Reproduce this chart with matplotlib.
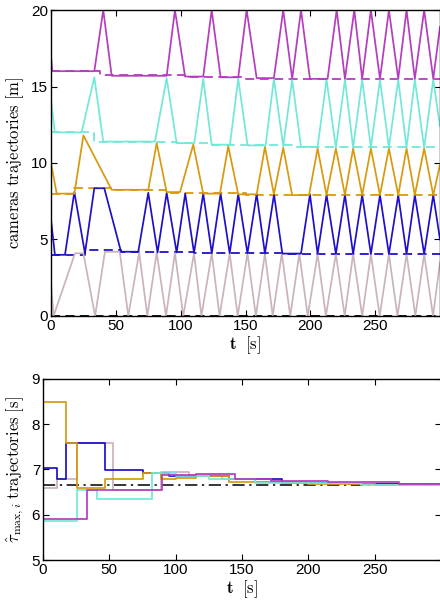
import matplotlib
matplotlib.use("Agg")
import matplotlib.pyplot as plt

plt.rcParams['mathtext.fontset'] = 'cm'
plt.rcParams['font.family'] = ['Liberation Sans', 'DejaVu Sans']

# ---------------- colours ----------------
c_pink = '#c9b4bc'
c_blue = '#1e10c8'
c_orange = '#d8990e'
c_turq = '#72e8d8'
c_purple = '#b63cbf'

# ---------------- top: camera trajectories (waypoints t [s], position [m]) ----------------
cam1_t = [0, 2, 18.5, 25, 34, 41.6, 53, 59.6, 68, 74.3, 81.5, 88.7, 95.6, 102, 110.3, 116, 124,
          130, 137.8, 144, 151.5, 158, 165, 171, 178, 184.5, 191.5, 198, 205.6, 212, 219.7, 226.5,
          233, 240, 246.7, 253.5, 260.6, 267.2, 274.2, 281, 287.8, 294.6, 300]
cam1_v = [2.2, 0, 4.1, 4.1, 0, 4.2, 4.2, 0, 4.15, 0, 4.15, 0, 4.12, 0, 4.1, 0, 4.1,
          0, 4.1, 0, 4.1, 0, 4.08, 0, 4.08, 0, 4.08, 0, 4.06, 0, 4.06, 0,
          4.06, 0, 4.05, 0, 4.05, 0, 4.05, 0, 4.05, 0, 3.5]

cam2_t = [0, 3, 10.8, 18, 26.2, 33.4, 41.1, 54, 67.3, 75, 82.2, 89.2, 96.9, 103.5, 110.3, 117.4,
          124, 130.8, 137.8, 144.4, 151.5, 158.6, 165, 172, 178.4, 192.8, 199.7, 205.6, 212.5,
          219.7, 226.7, 233, 240, 246.7, 253.7, 260.6, 267.8, 274.2, 280.6, 287.8, 294.8, 300]
cam2_v = [6.3, 4.0, 4.0, 8.1, 4.1, 8.35, 8.35, 4.2, 4.2, 8.05, 4.15, 8.05, 4.15, 8.0, 4.12, 8.0,
          4.1, 8.0, 4.1, 7.97, 4.1, 7.97, 4.08, 7.95, 4.08, 4.08, 7.95, 4.06, 7.92,
          4.06, 7.92, 4.05, 7.9, 4.05, 7.9, 4.05, 7.9, 4.05, 7.9, 4.05, 7.9, 5.0]

cam3_t = [0, 4.4, 18, 25, 46.8, 75, 81.5, 89.2, 99.5, 109.7, 117.4, 130.3, 136.7, 144.4, 158.6,
          165, 171.9, 179.1, 186, 199, 205.6, 212.5, 219.7, 226.7, 233, 240, 246.7, 253.7,
          260.6, 267.8, 274.2, 280.6, 287.8, 294.8, 300]
cam3_v = [10.0, 8.0, 8.0, 11.8, 8.25, 8.25, 11.3, 8.1, 8.1, 11.2, 8.0, 8.0, 11.1, 7.95, 7.95,
          11.05, 7.95, 11.0, 7.9, 7.9, 10.95, 7.9, 10.95, 7.9, 10.95, 7.9, 10.95, 7.9,
          10.95, 7.9, 10.95, 7.9, 10.95, 7.9, 9.9]

cam4_t = [0, 3, 23.6, 33.4, 40.3, 80.2, 89.2, 96.9, 110.5, 117.4, 123.9, 138, 144.4, 151.6,
          165.5, 171.9, 179.1, 186, 192.8, 205.6, 212.5, 219.7, 226.7, 233, 240, 246.7, 253.7,
          260.6, 267.8, 274.2, 280.6, 287.8, 294.8, 300]
cam4_v = [14.1, 12.0, 12.0, 15.6, 11.4, 11.4, 15.55, 11.3, 11.3, 15.5, 11.2, 11.2, 15.5, 11.15,
          11.15, 15.5, 11.1, 15.45, 11.05, 11.05, 15.45, 11.0, 15.45, 11.0, 15.45, 11.0, 15.45,
          11.0, 15.45, 11.0, 15.45, 11.0, 15.45, 12.4]

cam5_t = [0, 1, 33.4, 40.3, 46.8, 89.2, 95.6, 103.4, 117.4, 123.9, 130.8, 144.4, 150.9, 158.6,
          171.9, 179.1, 186, 192.8, 199.7, 213.3, 220.3, 226.7, 233.9, 240, 246.7, 253.7,
          260.6, 267.8, 274.2, 280.6, 287.8, 294.8, 300]
cam5_v = [17.0, 16.0, 16.0, 20.0, 15.7, 15.7, 20.0, 15.65, 15.65, 20.0, 15.6, 15.6, 20.0, 15.55,
          15.55, 20.0, 15.5, 20.0, 15.5, 15.5, 20.0, 15.5, 20.0, 15.5, 20.0, 15.5,
          20.0, 15.5, 20.0, 15.5, 20.0, 15.5, 18.9]

# segment boundaries (dashed, piecewise constant)
bnd0_t = [0, 300]
bnd0_v = [0, 0]
bnd1_t = [0, 26, 54, 110, 180, 300]
bnd1_v = [4.0, 4.3, 4.2, 4.12, 4.05, 4.05]
bnd2_t = [0, 18, 47, 89, 150, 300]
bnd2_v = [8.0, 8.38, 8.25, 8.05, 7.92, 7.92]
bnd3_t = [0, 33, 97, 124, 190, 300]
bnd3_v = [12.0, 11.4, 11.3, 11.2, 11.02, 11.02]
bnd4_t = [0, 38, 103, 150, 300]
bnd4_v = [16.0, 15.72, 15.65, 15.52, 15.52]

# ---------------- bottom: tau_max,i estimates (step, post) ----------------
tau1_t = [0, 10.8, 25.8, 53, 89, 110, 135, 160, 200, 240, 300]
tau1_v = [6.6, 6.8, 7.58, 6.55, 6.95, 6.88, 6.8, 6.72, 6.7, 6.67, 6.67]
tau2_t = [0, 10.8, 17.3, 47, 75, 95, 115, 140, 180, 230, 300]
tau2_v = [7.03, 6.8, 7.58, 6.98, 6.93, 6.85, 6.85, 6.78, 6.7, 6.67, 6.67]
tau3_t = [0, 17.3, 25.8, 47, 75, 89, 100, 115, 140, 200, 250, 300]
tau3_v = [8.5, 7.58, 6.6, 6.8, 6.92, 6.78, 6.82, 6.85, 6.73, 6.68, 6.66, 6.66]
tau4_t = [0, 25.8, 40.4, 81.8, 100, 125, 160, 240, 300]
tau4_v = [5.87, 6.55, 6.35, 6.92, 6.85, 6.78, 6.7, 6.66, 6.66]
tau5_t = [0, 33, 89.4, 115, 145, 172, 215, 268, 300]
tau5_v = [5.9, 6.55, 6.88, 6.9, 6.8, 6.75, 6.72, 6.67, 6.67]
tau_opt = 6.66

fig = plt.figure(figsize=(4.4, 6.03), dpi=100)
ax1 = fig.add_axes([51/440, 1-316/603, 389/440, 306/603])
ax2 = fig.add_axes([43/440, 1-560/603, 398/440, 181/603])

dash = (0, (5, 3))
lw = 1.25
for bt, bv, c in [(bnd0_t, bnd0_v, 'k'), (bnd1_t, bnd1_v, c_blue), (bnd2_t, bnd2_v, c_orange),
                  (bnd3_t, bnd3_v, c_turq), (bnd4_t, bnd4_v, c_purple)]:
    ax1.step(bt, bv, where='post', color=c, lw=1.3, linestyle=dash)

for ct, cv, c in [(cam1_t, cam1_v, c_pink), (cam2_t, cam2_v, c_blue), (cam3_t, cam3_v, c_orange),
                  (cam4_t, cam4_v, c_turq), (cam5_t, cam5_v, c_purple)]:
    ax1.plot(ct, cv, color=c, lw=lw)

ax1.set_xlim(0, 300)
ax1.set_ylim(0, 20)
ax1.set_xticks([0, 50, 100, 150, 200, 250])
ax1.set_yticks([0, 5, 10, 15, 20])
ax1.set_xlabel(r'$\mathbf{t}\ \ [\mathrm{s}]$', fontsize=12, labelpad=1)
ax1.set_ylabel(r'$\mathrm{cameras\ trajectories\ [m]}$', fontsize=12, labelpad=4)

ax2.axhline(tau_opt, color='k', lw=1.1, linestyle=(0, (8, 3, 1.5, 3)))
for tt, tv, c in [(tau1_t, tau1_v, c_pink), (tau2_t, tau2_v, c_blue), (tau3_t, tau3_v, c_orange),
                  (tau4_t, tau4_v, c_turq), (tau5_t, tau5_v, c_purple)]:
    ax2.step(tt, tv, where='post', color=c, lw=lw)

ax2.set_xlim(0, 300)
ax2.set_ylim(5, 9)
ax2.set_xticks([0, 50, 100, 150, 200, 250])
ax2.set_yticks([5, 6, 7, 8, 9])
ax2.set_xlabel(r'$\mathbf{t}\ \ [\mathrm{s}]$', fontsize=12, labelpad=1)
ax2.set_ylabel(r'$\hat{\tau}_{\max,i}\ \mathrm{trajectories\ [s]}$', fontsize=12, labelpad=4)

for ax in (ax1, ax2):
    ax.tick_params(direction='in', top=True, right=True, labelsize=11, length=4, width=0.8, pad=2)
    for s in ax.spines.values():
        s.set_linewidth(1.0)

fig.savefig('out.png', dpi=100)
